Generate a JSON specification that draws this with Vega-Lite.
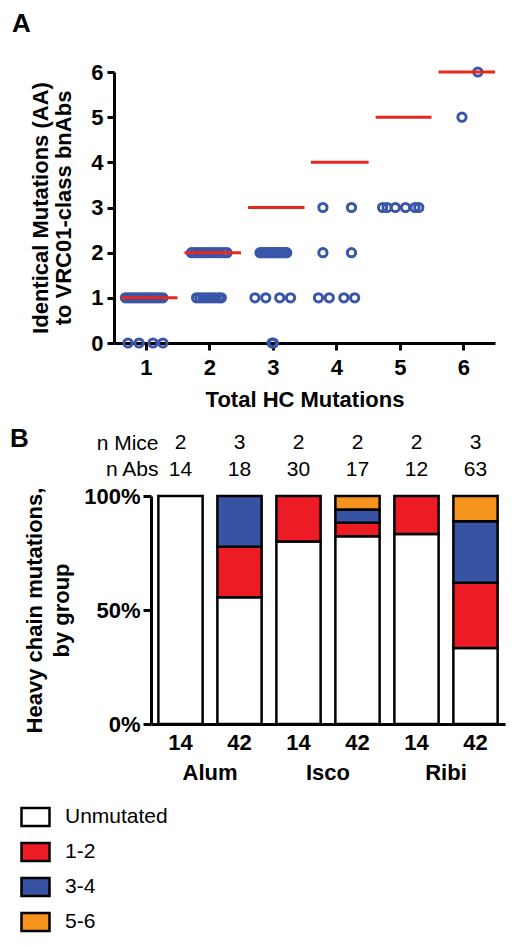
{
  "$schema": "https://vega.github.io/schema/vega-lite/v6.json",
  "padding": {"left": 10, "top": 11, "right": 5, "bottom": 5},
  "background": "white",
  "bounds": "flush",
  "spacing": 13,
  "config": {
    "font": "Liberation Sans",
    "view": {"stroke": null},
    "axis": {
      "labelFont": "Liberation Sans",
      "titleFont": "Liberation Sans",
      "labelFontSize": 22,
      "labelFontWeight": "bold",
      "labelColor": "black",
      "titleFontSize": 22,
      "titleFontWeight": "bold",
      "titleColor": "black",
      "domainColor": "black",
      "domainWidth": 3,
      "tickColor": "black",
      "tickWidth": 3,
      "grid": false
    },
    "title": {"font": "Liberation Sans", "color": "black"}
  },
  "vconcat": [
    {
      "width": 381,
      "height": 271,
      "title": {"text": "A", "anchor": "start", "frame": "group", "dx": -102, "offset": 3, "fontSize": 26, "fontWeight": "bold", "baseline": "alphabetic"},
      "layer": [
        {
          "data": {"values": [
            {"total": 0.68, "identical": 1}, {"total": 0.725, "identical": 1}, {"total": 0.77, "identical": 1}, {"total": 0.815, "identical": 1},
            {"total": 0.86, "identical": 1}, {"total": 0.905, "identical": 1}, {"total": 0.95, "identical": 1}, {"total": 0.995, "identical": 1},
            {"total": 1.04, "identical": 1}, {"total": 1.085, "identical": 1}, {"total": 1.13, "identical": 1}, {"total": 1.175, "identical": 1},
            {"total": 1.22, "identical": 1}, {"total": 1.27, "identical": 1},
            {"total": 0.72, "identical": 0}, {"total": 0.895, "identical": 0}, {"total": 1.115, "identical": 0}, {"total": 1.27, "identical": 0},
            {"total": 1.72, "identical": 2}, {"total": 1.77, "identical": 2}, {"total": 1.82, "identical": 2}, {"total": 1.87, "identical": 2},
            {"total": 1.92, "identical": 2}, {"total": 1.97, "identical": 2}, {"total": 2.02, "identical": 2}, {"total": 2.07, "identical": 2},
            {"total": 2.12, "identical": 2}, {"total": 2.17, "identical": 2}, {"total": 2.23, "identical": 2}, {"total": 2.28, "identical": 2},
            {"total": 1.8, "identical": 1}, {"total": 1.85, "identical": 1}, {"total": 1.9, "identical": 1}, {"total": 1.95, "identical": 1},
            {"total": 2.0, "identical": 1}, {"total": 2.05, "identical": 1}, {"total": 2.1, "identical": 1}, {"total": 2.15, "identical": 1},
            {"total": 2.19, "identical": 1},
            {"total": 2.8, "identical": 2}, {"total": 2.83, "identical": 2}, {"total": 2.86, "identical": 2}, {"total": 2.89, "identical": 2},
            {"total": 2.92, "identical": 2}, {"total": 2.95, "identical": 2}, {"total": 2.98, "identical": 2}, {"total": 3.01, "identical": 2},
            {"total": 3.04, "identical": 2}, {"total": 3.07, "identical": 2}, {"total": 3.1, "identical": 2}, {"total": 3.13, "identical": 2},
            {"total": 3.16, "identical": 2}, {"total": 3.19, "identical": 2}, {"total": 3.22, "identical": 2},
            {"total": 2.72, "identical": 1}, {"total": 2.89, "identical": 1}, {"total": 3.11, "identical": 1}, {"total": 3.28, "identical": 1},
            {"total": 2.99, "identical": 0}, {"total": 3.01, "identical": 0},
            {"total": 3.79, "identical": 3}, {"total": 4.24, "identical": 3},
            {"total": 3.79, "identical": 2}, {"total": 4.24, "identical": 2},
            {"total": 3.72, "identical": 1}, {"total": 3.89, "identical": 1}, {"total": 4.12, "identical": 1}, {"total": 4.29, "identical": 1},
            {"total": 4.73, "identical": 3}, {"total": 4.8, "identical": 3}, {"total": 4.93, "identical": 3}, {"total": 5.09, "identical": 3},
            {"total": 5.24, "identical": 3}, {"total": 5.3, "identical": 3},
            {"total": 5.98, "identical": 5}, {"total": 6.23, "identical": 6}
          ]},
          "mark": {"type": "point", "shape": "circle", "filled": false, "size": 68, "strokeWidth": 3, "color": "#3a56a8", "opacity": 1},
          "encoding": {
            "x": {
              "field": "total", "type": "quantitative",
              "scale": {"domain": [0.5, 6.5], "nice": false, "zero": false},
              "axis": {"values": [1, 2, 3, 4, 5, 6], "format": "d", "title": "Total HC Mutations", "tickSize": 7, "labelPadding": 7, "titlePadding": 11, "labelFlush": false}
            },
            "y": {
              "field": "identical", "type": "quantitative",
              "scale": {"domain": [0, 6], "nice": false},
              "axis": {"values": [0, 1, 2, 3, 4, 5, 6], "format": "d", "title": ["Identical Mutations (AA)", "to VRC01-class bnAbs"], "titleLineHeight": 23, "tickSize": 7, "labelPadding": 4, "titlePadding": 15}
            }
          }
        },
        {
          "data": {"values": [
            {"from": 0.61, "to": 1.5, "identical": 1},
            {"from": 1.61, "to": 2.5, "identical": 2},
            {"from": 2.61, "to": 3.5, "identical": 3},
            {"from": 3.6, "to": 4.51, "identical": 4},
            {"from": 4.62, "to": 5.5, "identical": 5},
            {"from": 5.61, "to": 6.5, "identical": 6}
          ]},
          "mark": {"type": "rule", "color": "#e5291c", "strokeWidth": 3},
          "encoding": {
            "x": {"field": "from", "type": "quantitative"},
            "x2": {"field": "to"},
            "y": {"field": "identical", "type": "quantitative"}
          }
        }
      ]
    },
    {
      "width": 391,
      "height": 127,
      "data": {"values": [
        {"adj": "Alum", "day": "14", "row": "n Mice", "val": "2"},
        {"adj": "Alum", "day": "42", "row": "n Mice", "val": "3"},
        {"adj": "Isco", "day": "14", "row": "n Mice", "val": "2"},
        {"adj": "Isco", "day": "42", "row": "n Mice", "val": "2"},
        {"adj": "Ribi", "day": "14", "row": "n Mice", "val": "2"},
        {"adj": "Ribi", "day": "42", "row": "n Mice", "val": "3"},
        {"adj": "Alum", "day": "14", "row": "n Abs", "val": "14"},
        {"adj": "Alum", "day": "42", "row": "n Abs", "val": "18"},
        {"adj": "Isco", "day": "14", "row": "n Abs", "val": "30"},
        {"adj": "Isco", "day": "42", "row": "n Abs", "val": "17"},
        {"adj": "Ribi", "day": "14", "row": "n Abs", "val": "12"},
        {"adj": "Ribi", "day": "42", "row": "n Abs", "val": "63"}
      ]},
      "mark": {"type": "text", "fontSize": 21, "font": "Liberation Sans", "color": "black"},
      "encoding": {
        "x": {"field": "adj", "type": "nominal", "sort": ["Alum", "Isco", "Ribi"], "scale": {"range": [37, 391], "paddingInner": 0, "paddingOuter": 0}, "axis": null},
        "xOffset": {"field": "day", "type": "nominal", "sort": ["14", "42"], "scale": {"paddingInner": 0.25, "paddingOuter": 0.125}},
        "y": {"field": "row", "type": "nominal", "sort": ["n Mice", "n Abs"], "scale": {"range": [74, 127], "paddingInner": 0, "paddingOuter": 0},
          "axis": {"title": null, "domain": false, "ticks": false, "tickSize": 0, "offset": -37, "labelPadding": -7, "labelFontWeight": "normal", "labelFontSize": 21}},
        "text": {"field": "val", "type": "nominal"}
      }
    },
    {
      "width": 391,
      "height": 228,
      "title": {"text": "B", "anchor": "start", "frame": "group", "dx": -104, "offset": 12, "fontSize": 26, "fontWeight": "bold", "baseline": "alphabetic"},
      "layer": [
        {
          "data": {"values": [
            {"adj": "Alum", "day": "14", "cat": "Unmutated", "rank": 1, "n": 14},
            {"adj": "Alum", "day": "42", "cat": "Unmutated", "rank": 1, "n": 10},
            {"adj": "Alum", "day": "42", "cat": "1-2", "rank": 2, "n": 4},
            {"adj": "Alum", "day": "42", "cat": "3-4", "rank": 3, "n": 4},
            {"adj": "Isco", "day": "14", "cat": "Unmutated", "rank": 1, "n": 24},
            {"adj": "Isco", "day": "14", "cat": "1-2", "rank": 2, "n": 6},
            {"adj": "Isco", "day": "42", "cat": "Unmutated", "rank": 1, "n": 14},
            {"adj": "Isco", "day": "42", "cat": "1-2", "rank": 2, "n": 1},
            {"adj": "Isco", "day": "42", "cat": "3-4", "rank": 3, "n": 1},
            {"adj": "Isco", "day": "42", "cat": "5-6", "rank": 4, "n": 1},
            {"adj": "Ribi", "day": "14", "cat": "Unmutated", "rank": 1, "n": 10},
            {"adj": "Ribi", "day": "14", "cat": "1-2", "rank": 2, "n": 2},
            {"adj": "Ribi", "day": "42", "cat": "Unmutated", "rank": 1, "n": 21},
            {"adj": "Ribi", "day": "42", "cat": "1-2", "rank": 2, "n": 18},
            {"adj": "Ribi", "day": "42", "cat": "3-4", "rank": 3, "n": 17},
            {"adj": "Ribi", "day": "42", "cat": "5-6", "rank": 4, "n": 7}
          ]},
          "mark": {"type": "bar", "stroke": "black", "strokeWidth": 2.5, "opacity": 1},
          "encoding": {
            "x": {"field": "adj", "type": "nominal", "sort": ["Alum", "Isco", "Ribi"], "scale": {"range": [37, 391], "paddingInner": 0, "paddingOuter": 0},
              "axis": {"title": null, "labelAngle": 0, "ticks": false, "tickSize": 0, "labelPadding": 38, "labelFontSize": 22}},
            "xOffset": {"field": "day", "type": "nominal", "sort": ["14", "42"], "scale": {"paddingInner": 0.25, "paddingOuter": 0.125}},
            "y": {"field": "n", "type": "quantitative", "stack": "normalize",
              "axis": {"values": [0, 0.5, 1], "format": "%", "offset": -37, "tickSize": 8, "labelPadding": 3,
                "title": ["Heavy chain mutations,", "by group"], "titleLineHeight": 27, "titlePadding": 10}},
            "order": {"field": "rank", "type": "quantitative", "sort": "ascending"},
            "color": {"field": "cat", "type": "nominal",
              "scale": {"domain": ["Unmutated", "1-2", "3-4", "5-6"], "range": ["#ffffff", "#ed1c24", "#3953a4", "#f7941d"]},
              "legend": {"orient": "none", "legendX": -90, "legendY": 733.5, "title": null, "labelFontSize": 21, "labelFont": "Liberation Sans", "labelColor": "black",
                "symbolType": "M-1.4,-0.9H1.4V0.9H-1.4Z", "symbolSize": 400, "symbolStrokeColor": "black", "symbolStrokeWidth": 2.5, "symbolOpacity": 1,
                "rowPadding": 6, "labelOffset": 18}}
          }
        },
        {
          "data": {"values": [
            {"adj": "Alum", "day": "14"}, {"adj": "Alum", "day": "42"},
            {"adj": "Isco", "day": "14"}, {"adj": "Isco", "day": "42"},
            {"adj": "Ribi", "day": "14"}, {"adj": "Ribi", "day": "42"}
          ]},
          "mark": {"type": "text", "fontSize": 22, "fontWeight": "bold", "font": "Liberation Sans", "color": "black", "dy": 19, "baseline": "middle"},
          "encoding": {
            "x": {"field": "adj", "type": "nominal", "sort": ["Alum", "Isco", "Ribi"]},
            "xOffset": {"field": "day", "type": "nominal", "sort": ["14", "42"]},
            "y": {"datum": 0},
            "text": {"field": "day", "type": "nominal"}
          }
        }
      ]
    }
  ]
}
